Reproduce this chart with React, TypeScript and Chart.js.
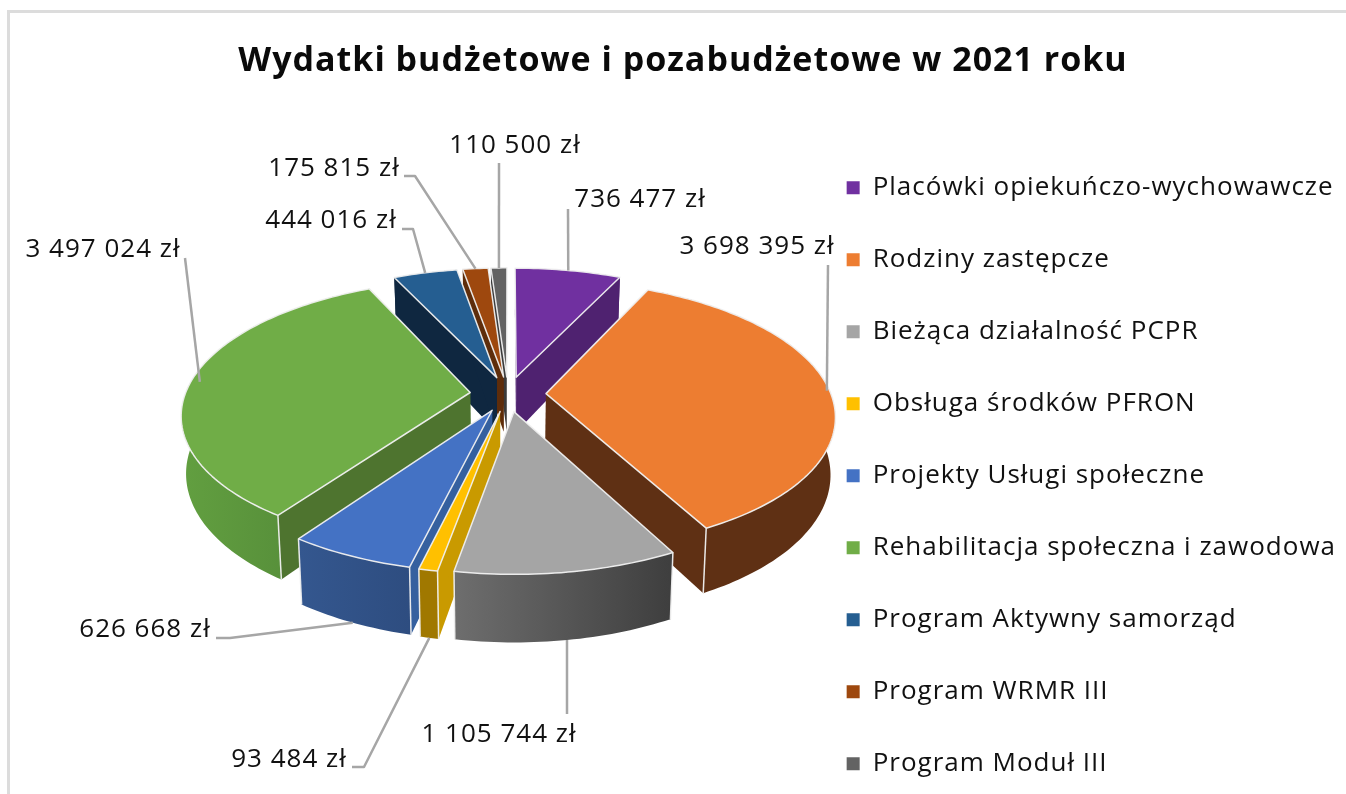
import React, { useEffect, useRef } from "react";
import { Chart, registerables } from "chart.js";

Chart.register(...registerables);

const titleText = "Wydatki budżetowe i pozabudżetowe w 2021 roku";
const categories = [
  "Placówki opiekuńczo-wychowawcze",
  "Rodziny zastępcze",
  "Bieżąca działalność PCPR",
  "Obsługa środków PFRON",
  "Projekty Usługi społeczne",
  "Rehabilitacja społeczna i zawodowa",
  "Program Aktywny samorząd",
  "Program WRMR III",
  "Program Moduł III",
];
const amounts = [736477, 3698395, 1105744, 93484, 626668, 3497024, 444016, 175815, 110500];

const topColors = ["#7030a0", "#ed7d31", "#a5a5a5", "#ffc000", "#4472c4", "#70ad47", "#255e91", "#9e480e", "#636363"];
const sideColors = ["#4f2270", "#5f3014", "#5a5a5a", "#c99a00", "#35609f", "#4e742f", "#0f2740", "#5e2d0b", "#3b3b3b"];
const rimStart = ["#4f2270", "#5f3014", "#6e6e6e", "#a07800", "#34578f", "#629f40", "#0f2740", "#5e2d0b", "#3b3b3b"];
const rimEnd = ["#4f2270", "#5f3014", "#3e3e3e", "#a07800", "#2e4d80", "#4f8436", "#0f2740", "#5e2d0b", "#3b3b3b"];

// label layout, separate from the data
const labelCentres = [[640, 200], [757, 247], [499, 735], [289, 760], [145, 630], [103, 250], [331, 221], [334, 169], [515, 146]];
const leaderStarts = [
  [[568, 209]],
  [[828, 265]],
  [[567, 714]],
  [[352, 767], [364, 767]],
  [[216, 638], [230, 638]],
  [[185, 258]],
  [[402, 229], [413, 229]],
  [[404, 176], [415, 176]],
  [[499, 163]],
];
const leaderReach = [1, 0.99, 1, 1, 1, 0.968, 1, 1, 1];

// projection of the tilted pie
const CX = 508;
const CY = 394;
const PIE_R = 285;
const TILT = 0.46;
const PERSP = 0.00055;
const DEPTH = 56;
const EXPLODE = 38;
const FONT = "'Open Sans', sans-serif";

const formatMoney = (v: number) => v.toString().replace(/\B(?=(\d{3})+(?!\d))/g, " ") + " zł";

function project(X: number, Y: number, low: boolean) {
  const s = 1 / (1 - PERSP * Y);
  const shrink = low ? 0.985 : 1;
  return { x: CX + X * s * shrink, y: CY + TILT * Y * s + (low ? DEPTH * s : 0) };
}

const spacing = {
  id: "spacing",
  beforeLayout(chart: any) {
    chart.ctx.letterSpacing = "1px";
  },
  beforeDraw(chart: any) {
    chart.ctx.letterSpacing = "1px";
  },
};

const pie3d = {
  id: "pie3d",
  beforeDatasetsDraw(chart: any) {
    const ctx: CanvasRenderingContext2D = chart.ctx;
    const arcs: any[] = chart.getDatasetMeta(0).data;
    const slices = arcs.map((el, i) => {
      const { startAngle, endAngle, outerRadius } = el.getProps(["startAngle", "endAngle", "outerRadius"], true);
      const off = el.options.offset;
      const mid = (startAngle + endAngle) / 2;
      const ox = Math.cos(mid) * off;
      const oy = Math.sin(mid) * off;
      const unit = PIE_R / outerRadius;
      const r = outerRadius * unit;
      const steps = Math.max(2, Math.ceil((endAngle - startAngle) / 0.02));
      const rim: number[][] = [];
      for (let k = 0; k <= steps; k++) {
        const a = startAngle + ((endAngle - startAngle) * k) / steps;
        rim.push([ox + r * Math.cos(a), oy + r * Math.sin(a)]);
      }
      return { i, mid, ox, oy, r, rim };
    });

    const path = (pts: { x: number; y: number }[]) => {
      ctx.beginPath();
      pts.forEach((p, n) => (n ? ctx.lineTo(p.x, p.y) : ctx.moveTo(p.x, p.y)));
      ctx.closePath();
    };

    ctx.save();
    ctx.lineJoin = "round";
    const EDGE = "rgba(240,240,240,0.95)";
    [...slices]
      .sort((a, b) => Math.sin(a.mid) - Math.sin(b.mid))
      .forEach((s) => {
        const topV = project(s.ox, s.oy, false);
        const lowV = project(s.ox, s.oy, true);
        const first = s.rim[0];
        const last = s.rim[s.rim.length - 1];
        // radial walls
        [first, last].forEach((p) => {
          const t = project(p[0], p[1], false);
          const b = project(p[0], p[1], true);
          path([topV, t, b, lowV]);
          ctx.fillStyle = sideColors[s.i];
          ctx.fill();
        });
        // outer wall
        const tops = s.rim.map((p) => project(p[0], p[1], false));
        const lows = s.rim.map((p) => project(p[0], p[1], true));
        const xs = tops.map((p) => p.x);
        const g = ctx.createLinearGradient(Math.min(...xs), 0, Math.max(...xs), 0);
        g.addColorStop(0, rimStart[s.i]);
        g.addColorStop(1, rimEnd[s.i]);
        path([...tops, ...[...lows].reverse()]);
        ctx.fillStyle = g;
        ctx.fill();
        // rim corner edges
        ctx.strokeStyle = EDGE;
        ctx.lineWidth = 1.5;
        [0, tops.length - 1].forEach((n) => {
          if (Math.sin(s.mid) > -0.2) {
            ctx.beginPath();
            ctx.moveTo(tops[n].x, tops[n].y);
            ctx.lineTo(lows[n].x, lows[n].y);
            ctx.stroke();
          }
        });
        // top face
        path([topV, ...tops]);
        ctx.fillStyle = topColors[s.i];
        ctx.fill();
        ctx.strokeStyle = EDGE;
        ctx.lineWidth = 1.5;
        ctx.stroke();
      });

    // leaders and value labels
    ctx.strokeStyle = "#a6a6a6";
    ctx.lineWidth = 2.5;
    slices.forEach((s) => {
      const reach = leaderReach[s.i];
      const front = Math.sin(s.mid) > 0.3;
      const end = project(s.ox + s.r * reach * Math.cos(s.mid), s.oy + s.r * reach * Math.sin(s.mid), front);
      ctx.beginPath();
      leaderStarts[s.i].forEach((p, n) => (n ? ctx.lineTo(p[0], p[1]) : ctx.moveTo(p[0], p[1])));
      ctx.lineTo(end.x, end.y);
      ctx.stroke();
    });
    ctx.fillStyle = "#111111";
    ctx.font = `26px ${FONT}`;
    ctx.textAlign = "center";
    ctx.textBaseline = "middle";
    slices.forEach((s) => {
      const c = labelCentres[s.i];
      ctx.fillText(formatMoney(amounts[s.i]), c[0], c[1]);
    });
    ctx.restore();
    return false;
  },
};

const frame = {
  id: "frame",
  beforeDraw(chart: any) {
    const ctx = chart.ctx;
    ctx.save();
    ctx.strokeStyle = "#dcdcdc";
    ctx.lineWidth = 3;
    ctx.beginPath();
    ctx.moveTo(8.5, 900);
    ctx.lineTo(8.5, 11.5);
    ctx.lineTo(1346, 11.5);
    ctx.stroke();
    ctx.restore();
  },
};

export default function App() {
  const ref = useRef<HTMLCanvasElement>(null);
  useEffect(() => {
    const chart = new Chart(ref.current!, {
      type: "pie",
      data: {
        labels: categories,
        datasets: [
          {
            data: amounts,
            backgroundColor: topColors,
            borderWidth: 0,
            offset: EXPLODE,
          },
        ],
      },
      options: {
        responsive: false,
        animation: false,
        layout: { padding: { left: 20, right: 0, top: 0, bottom: 0 } },
        plugins: {
          tooltip: { enabled: false },
          title: {
            display: true,
            text: titleText,
            color: "#0a0a0a",
            font: { family: FONT, size: 34, weight: "bold", lineHeight: 1.2 },
            padding: { top: 41, bottom: 47 },
          },
          legend: {
            position: "right",
            align: "start",
            fullSize: false,
            maxWidth: 700,
            labels: {
              boxWidth: 13,
              boxHeight: 13,
              padding: 46,
              color: "#111111",
              font: { family: FONT, size: 26, lineHeight: 1.0 },
            },
          },
        },
      },
      plugins: [spacing, frame, pie3d],
    } as any);
    return () => chart.destroy();
  }, []);
  return (
    <div style={{ position: "fixed", left: 0, top: 0, width: 1346, height: 794, overflow: "hidden", background: "#fff" }}>
      <canvas ref={ref} width={1346} height={900} style={{ display: "block", filter: "blur(0.4px)" }} />
    </div>
  );
}
